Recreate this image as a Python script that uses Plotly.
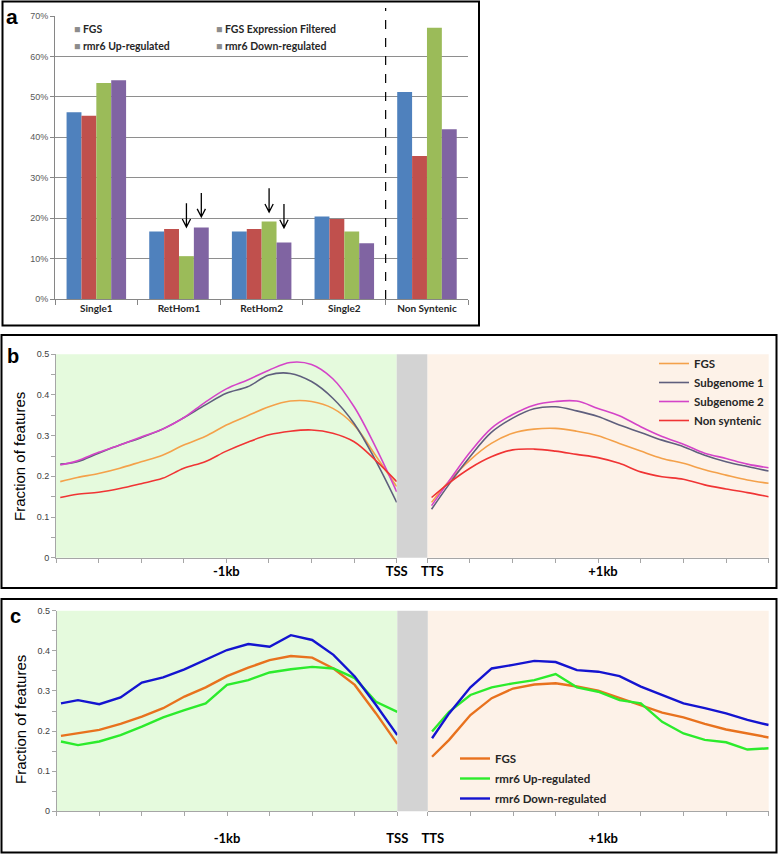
import plotly.graph_objects as go

W, H = 778, 854

# ---------------- Panel a data ----------------
categories = ["Single1", "RetHom1", "RetHom2", "Single2", "Non Syntenic"]
bar_series = ["FGS", "FGS Expression Filtered", "rmr6 Up-regulated", "rmr6 Down-regulated"]
fgs_pct = [46.2, 16.7, 16.7, 20.4, 51.2]
fgs_filtered_pct = [45.3, 17.3, 17.3, 19.8, 35.4]
up_pct = [53.4, 10.6, 19.2, 16.7, 67.1]
down_pct = [54.1, 17.7, 14.0, 13.8, 42.0]
bar_colors = ["#4F81BD", "#C0504D", "#9BBB59", "#8064A2"]
pct_ticks = [0, 10, 20, 30, 40, 50, 60, 70]
pct_labels = ["0%", "10%", "20%", "30%", "40%", "50%", "60%", "70%"]
# arrows: (category index, series index, arrow tip value in %)
arrow_marks = [(1, 2, 17.8), (1, 3, 20.3), (2, 2, 21.5), (2, 3, 17.6)]

# ---------------- Panels b, c data ----------------
up_bp = [-1975, -1875, -1750, -1625, -1500, -1375, -1250, -1125, -1000,
         -875, -750, -625, -500, -375, -250, -125, 0]
down_bp = [25, 125, 250, 375, 500, 625, 750, 875, 1000,
           1125, 1250, 1375, 1500, 1625, 1750, 1875, 2000]
frac_ticks = [0, 0.1, 0.2, 0.3, 0.4, 0.5]
frac_labels = ["0", "0.1", "0.2", "0.3", "0.4", "0.5"]

b_names = ["FGS", "Subgenome 1", "Subgenome 2", "Non syntenic"]
b_colors = ["#F4A14A", "#5F5F7D", "#D444C8", "#F03434"]
b_fgs_up = [0.187, 0.197, 0.207, 0.220, 0.236, 0.252, 0.277, 0.298, 0.326, 0.349, 0.371, 0.385, 0.384, 0.367, 0.326, 0.252, 0.175]
b_sg1_up = [0.230, 0.236, 0.257, 0.277, 0.295, 0.316, 0.344, 0.375, 0.404, 0.420, 0.449, 0.453, 0.433, 0.392, 0.330, 0.240, 0.136]
b_sg2_up = [0.228, 0.238, 0.259, 0.277, 0.297, 0.316, 0.344, 0.382, 0.415, 0.437, 0.461, 0.480, 0.475, 0.440, 0.371, 0.273, 0.162]
b_ns_up = [0.148, 0.156, 0.161, 0.170, 0.182, 0.195, 0.220, 0.236, 0.262, 0.284, 0.302, 0.311, 0.314, 0.306, 0.285, 0.240, 0.187]
b_fgs_dn = [0.136, 0.187, 0.240, 0.281, 0.306, 0.316, 0.318, 0.311, 0.300, 0.281, 0.262, 0.244, 0.232, 0.216, 0.203, 0.191, 0.183]
b_sg1_dn = [0.119, 0.179, 0.248, 0.308, 0.343, 0.366, 0.371, 0.361, 0.347, 0.326, 0.308, 0.289, 0.273, 0.252, 0.236, 0.224, 0.213]
b_sg2_dn = [0.128, 0.187, 0.259, 0.318, 0.352, 0.375, 0.384, 0.385, 0.367, 0.349, 0.322, 0.298, 0.279, 0.257, 0.244, 0.230, 0.221]
b_ns_dn = [0.148, 0.183, 0.220, 0.248, 0.265, 0.267, 0.262, 0.254, 0.246, 0.232, 0.211, 0.199, 0.193, 0.179, 0.169, 0.160, 0.150]

c_names = ["FGS", "rmr6 Up-regulated", "rmr6 Down-regulated"]
c_colors = ["#E8721E", "#2CEB2C", "#1414D0"]
c_fgs_up = [0.188, 0.194, 0.203, 0.218, 0.236, 0.257, 0.286, 0.309, 0.337, 0.358, 0.377, 0.387, 0.383, 0.356, 0.315, 0.244, 0.168]
c_upreg_up = [0.174, 0.165, 0.174, 0.190, 0.211, 0.234, 0.252, 0.269, 0.315, 0.327, 0.346, 0.354, 0.360, 0.356, 0.332, 0.273, 0.248]
c_downreg_up = [0.269, 0.277, 0.267, 0.284, 0.321, 0.334, 0.354, 0.377, 0.402, 0.417, 0.410, 0.439, 0.427, 0.390, 0.336, 0.265, 0.190]
c_fgs_dn = [0.136, 0.178, 0.240, 0.282, 0.306, 0.316, 0.319, 0.311, 0.301, 0.282, 0.265, 0.246, 0.234, 0.218, 0.204, 0.194, 0.184]
c_upreg_dn = [0.199, 0.248, 0.290, 0.309, 0.319, 0.327, 0.342, 0.309, 0.298, 0.277, 0.269, 0.223, 0.194, 0.178, 0.172, 0.154, 0.157]
c_downreg_dn = [0.182, 0.244, 0.309, 0.356, 0.365, 0.375, 0.372, 0.352, 0.348, 0.337, 0.311, 0.290, 0.269, 0.257, 0.244, 0.228, 0.215]


def px(x):
    return x / W


def py(y):
    return 1 - y / H


fig = go.Figure()

# ---- panel a bars ----
bar_values = [fgs_pct, fgs_filtered_pct, up_pct, down_pct]
for name, vals, col in zip(bar_series, bar_values, bar_colors):
    fig.add_trace(go.Bar(x=categories, y=vals, name=name, marker=dict(color=col, line=dict(width=0)),
                         xaxis="x", yaxis="y", showlegend=False))

BARGAP = 0.28
bar_w = (1 - BARGAP) / len(bar_series)

shapes = []
for ci, si, tip in arrow_marks:
    xc = ci - (1 - BARGAP) / 2 + bar_w * (si + 0.5)
    top = tip + 5.9
    hw = 0.05
    hh = 2.0
    shapes.append(dict(type="path", xref="x", yref="y",
                       path=f"M {xc},{top} L {xc},{tip} M {xc - hw},{tip + hh} L {xc},{tip} L {xc + hw},{tip + hh}",
                       line=dict(color="black", width=1.3), layer="above"))

# dashed divider
shapes.append(dict(type="line", xref="x", yref="paper", x0=3.5, x1=3.5, y0=py(299), y1=py(8),
                   line=dict(color="black", width=1.2, dash="dash")))

# ---- panel b lines ----
b_up = [b_fgs_up, b_sg1_up, b_sg2_up, b_ns_up]
b_dn = [b_fgs_dn, b_sg1_dn, b_sg2_dn, b_ns_dn]
for i, (name, col) in enumerate(zip(b_names, b_colors)):
    fig.add_trace(go.Scatter(x=up_bp, y=b_up[i], mode="lines", line=dict(color=col, width=1.6, shape="spline"),
                             xaxis="x2", yaxis="y2", showlegend=False))
    fig.add_trace(go.Scatter(x=down_bp, y=b_dn[i], mode="lines", name=name,
                             line=dict(color=col, width=1.6, shape="spline"),
                             xaxis="x3", yaxis="y2", legend="legend2", legendgroup="b" + str(i)))

# ---- panel c lines ----
c_up = [c_fgs_up, c_upreg_up, c_downreg_up]
c_dn = [c_fgs_dn, c_upreg_dn, c_downreg_dn]
for i, (name, col) in enumerate(zip(c_names, c_colors)):
    fig.add_trace(go.Scatter(x=up_bp, y=c_up[i], mode="lines", line=dict(color=col, width=2.4),
                             xaxis="x4", yaxis="y3", showlegend=False))
    fig.add_trace(go.Scatter(x=down_bp, y=c_dn[i], mode="lines", name=name,
                             line=dict(color=col, width=2.4),
                             xaxis="x5", yaxis="y3", legend="legend3", legendgroup="c" + str(i)))

# backgrounds
GREEN = "#E5FADD"
PEACH = "#FDF2E8"
GREY = "#D3D3D3"
for (xl, xr, yy) in [("x2", "x3", "y2"), ("x4", "x5", "y3")]:
    shapes.append(dict(type="rect", xref=f"{xl} domain", yref=f"{yy} domain", x0=0, x1=1, y0=0, y1=1,
                       fillcolor=GREEN, line=dict(width=0), layer="below"))
    shapes.append(dict(type="rect", xref=f"{xr} domain", yref=f"{yy} domain", x0=0, x1=1, y0=0, y1=1,
                       fillcolor=PEACH, line=dict(width=0), layer="below"))

shapes.append(dict(type="rect", xref="paper", yref="y2 domain", x0=px(396.7), x1=px(427.3), y0=0, y1=1,
                   fillcolor=GREY, line=dict(width=0), layer="below"))
shapes.append(dict(type="rect", xref="paper", yref="y3 domain", x0=px(397.3), x1=px(427.8), y0=0, y1=1,
                   fillcolor=GREY, line=dict(width=0), layer="below"))

# panel frames
for (x0, y0, x1, y1) in [(2.5, 1.5, 479, 325.5), (1.5, 335, 776.5, 588), (1.5, 599, 776.5, 852.5)]:
    shapes.append(dict(type="rect", xref="paper", yref="paper", x0=px(x0), x1=px(x1), y0=py(y1), y1=py(y0),
                       line=dict(color="black", width=2), fillcolor="rgba(0,0,0,0)", layer="above"))

annotations = []
# panel letters
for t, x, y, s in [("a", 11.5, 16, 21), ("b", 13, 356, 20), ("c", 16, 616, 20)]:
    annotations.append(dict(text=t, x=px(x), y=py(y), xref="paper", yref="paper", showarrow=False,
                            xanchor="center", yanchor="middle",
                            font=dict(family="Liberation Sans", size=s, color="black", weight="bold")))
# y titles
for x, y in [(19, 457), (20, 720)]:
    annotations.append(dict(text="Fraction of features", x=px(x), y=py(y), xref="paper", yref="paper",
                            showarrow=False, textangle=-90, xanchor="center", yanchor="middle",
                            font=dict(family="Liberation Sans", size=15, color="black")))
# panel a legend (grey square keys)
leg_pos = [(72, 29), (214, 29), (72, 46), (214, 46)]
for name, (x, y) in zip(bar_series, leg_pos):
    annotations.append(dict(text=f"<span style='color:#8C8C8C'>■</span> {name}", x=px(x), y=py(y),
                            xref="paper", yref="paper", showarrow=False, xanchor="left", yanchor="middle",
                            font=dict(family="Lato", size=10.5, color="#262626", weight="bold")))

axis_grey = "#A6A6A6"
tick_font = dict(family="Liberation Sans", size=9, color="#595959")
lab_font = dict(family="Lato", size=13, color="black", weight="bold")


def x_prof(domain, anchor, rng, vals, texts, standoff, shift):
    return dict(domain=domain, anchor=anchor, range=rng, tickmode="array", tickvals=vals, ticktext=texts,
                ticks="outside", ticklen=4, tickcolor=axis_grey, showline=True, linecolor=axis_grey,
                showgrid=False, zeroline=False, tickfont=lab_font, automargin=False,
                ticklabelstandoff=standoff, ticklabelshift=shift,
                minor=dict(tickmode="linear", tick0=0, dtick=250, ticks="outside", ticklen=4, tickcolor=axis_grey))


def y_prof(domain, anchor):
    return dict(domain=domain, anchor=anchor, range=[0, 0.5], tickmode="array", tickvals=frac_ticks,
                ticktext=frac_labels, showline=True, linecolor=axis_grey, ticks="outside", ticklen=4,
                tickcolor=axis_grey, showgrid=False, zeroline=False, automargin=False,
                tickfont=dict(family="Liberation Sans", size=9, color="#404040"),
                minor=dict(tickmode="linear", tick0=0, dtick=0.05, ticks="outside", ticklen=4, tickcolor=axis_grey))


fig.update_layout(
    width=W, height=H, margin=dict(l=0, r=0, t=0, b=0, autoexpand=False),
    paper_bgcolor="white", plot_bgcolor="rgba(0,0,0,0)",
    barmode="group", bargap=BARGAP, bargroupgap=0,
    shapes=shapes, annotations=annotations,
    xaxis=dict(domain=[px(55), px(468.3)], anchor="y", type="category", range=[-0.5, 4.5],
               showline=True, linecolor="#868686", ticks="outside", tickson="boundaries", ticklen=5,
               tickcolor="#868686", tickfont=dict(family="Lato", size=10, color="#262626", weight="bold"),
               showgrid=False, automargin=False),
    yaxis=dict(domain=[py(299), py(16)], anchor="x", range=[0, 70], tickmode="array", tickvals=pct_ticks,
               ticktext=pct_labels,
               showline=True, linecolor="#868686", ticks="outside", ticklen=4, tickcolor="#868686",
               showgrid=True, gridcolor="#8E8E8E", gridwidth=1, zeroline=False, tickfont=tick_font,
               automargin=False),
    xaxis2=x_prof([px(56), px(396.7)], "y2", [-2000, 0], [-1000, 0], ["-1kb", "TSS"], -2, 0),
    xaxis3=x_prof([px(427.3), px(768.7)], "y2", [0, 2000], [0, 1000], ["TTS", "+1kb"], -2, 5),
    xaxis4=x_prof([px(56.7), px(397.3)], "y3", [-2000, 0], [-1000, 0], ["-1kb", "TSS"], 11, 0),
    xaxis5=x_prof([px(427.8), px(768.7)], "y3", [0, 2000], [0, 1000], ["TTS", "+1kb"], 11, 5),
    yaxis2=y_prof([py(557.7), py(354.3)], "x2"),
    yaxis3=y_prof([py(811.3), py(610.7)], "x4"),
    legend2=dict(x=px(654), y=py(349), xanchor="left", yanchor="top", bgcolor="rgba(0,0,0,0)",
                 font=dict(family="Lato", size=11.5, color="#262626", weight="bold"),
                 traceorder="grouped", tracegroupgap=0, itemwidth=30),
    legend3=dict(x=px(455), y=py(744), xanchor="left", yanchor="top", bgcolor="rgba(0,0,0,0)",
                 font=dict(family="Lato", size=11.5, color="#262626", weight="bold"),
                 traceorder="grouped", tracegroupgap=1, itemwidth=30),
)

fig.write_html("out.html", config={"displayModeBar": False},
               post_script="document.body.style.margin='0px';")
